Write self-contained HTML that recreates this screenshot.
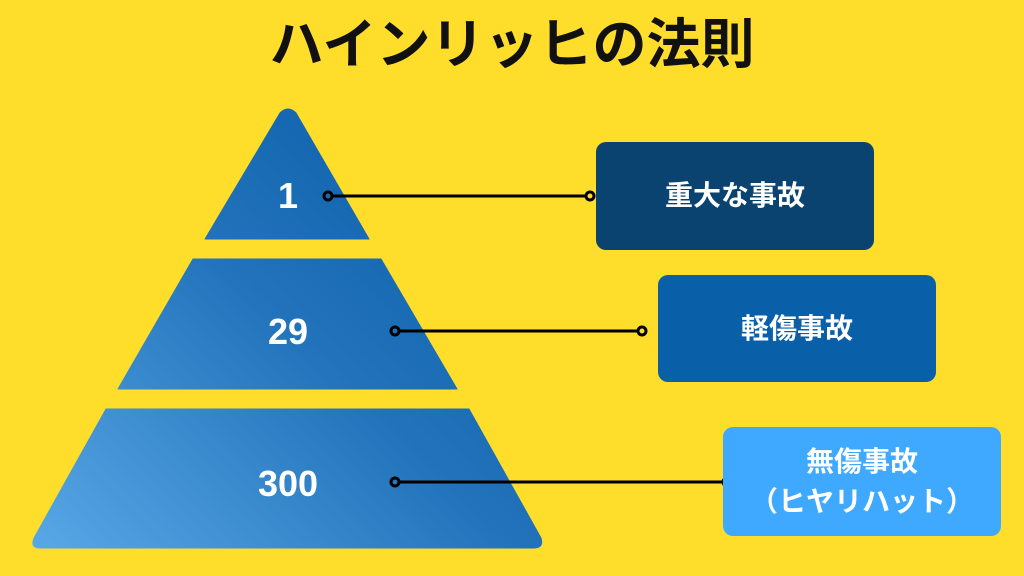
<!DOCTYPE html>
<html><head><meta charset="utf-8"><style>
html,body{margin:0;padding:0}
body{width:1024px;height:576px;background:#ffdd2b;position:relative;overflow:hidden;font-family:"Liberation Sans","Noto Sans CJK JP",sans-serif}
.t{position:absolute;left:0;width:1024px;top:12px;text-align:center;font-size:54px;font-weight:bold;color:#111;line-height:66px}
.b{position:absolute;border-radius:10px;color:#fff;font-weight:bold;font-size:28px;display:flex;align-items:center;justify-content:center;text-align:center;line-height:40px}
</style></head><body>
<div class="t">ハインリッヒの法則</div>
<svg width="1024" height="576" style="position:absolute;left:0;top:0">
<defs><linearGradient id="g" gradientUnits="userSpaceOnUse" x1="30" y1="560" x2="470" y2="110">
<stop offset="0" stop-color="#5aa9e8"/><stop offset="0.55" stop-color="#2273bb"/><stop offset="1" stop-color="#0a5ea8"/></linearGradient></defs>
<g fill="url(#g)" stroke="url(#g)" stroke-linejoin="round">
<path d="M280 113 Q288 105 296 113 L369 239 L205 239 Z" stroke-width="1"/>
<path d="M193 259 L381 259 L457 389 L118 389 Z" stroke-width="1"/>
<path d="M106 409 L469 409 L541 538 Q544 548 534 548 L40 548 Q30 548 34 538 Z" stroke-width="1"/>
</g>
<g font-family="Liberation Sans, sans-serif" font-weight="bold" font-size="36" fill="#fff" text-anchor="middle">
<text x="288" y="208">1</text><text x="288" y="344">29</text><text x="288" y="496">300</text></g>
<g stroke="#000" stroke-width="3" fill="none">
<line x1="332" y1="196" x2="586" y2="196"/><line x1="399" y1="331" x2="638" y2="331"/><line x1="399" y1="482" x2="723" y2="482"/>
<circle cx="328" cy="196" r="4"/><circle cx="590" cy="196" r="4"/>
<circle cx="395" cy="331" r="4"/><circle cx="642" cy="331" r="4"/>
<circle cx="395" cy="482" r="4"/><circle cx="727" cy="482" r="4"/></g>
</svg>
<div class="b" style="left:596px;top:142px;width:278px;height:108px;background:#0a4270">重大な事故</div>
<div class="b" style="left:658px;top:275px;width:278px;height:107px;background:#0a60a8">軽傷事故</div>
<div class="b" style="left:723px;top:427px;width:278px;height:109px;background:#3fa9ff">無傷事故<br>（ヒヤリハット）</div>
</body></html>
